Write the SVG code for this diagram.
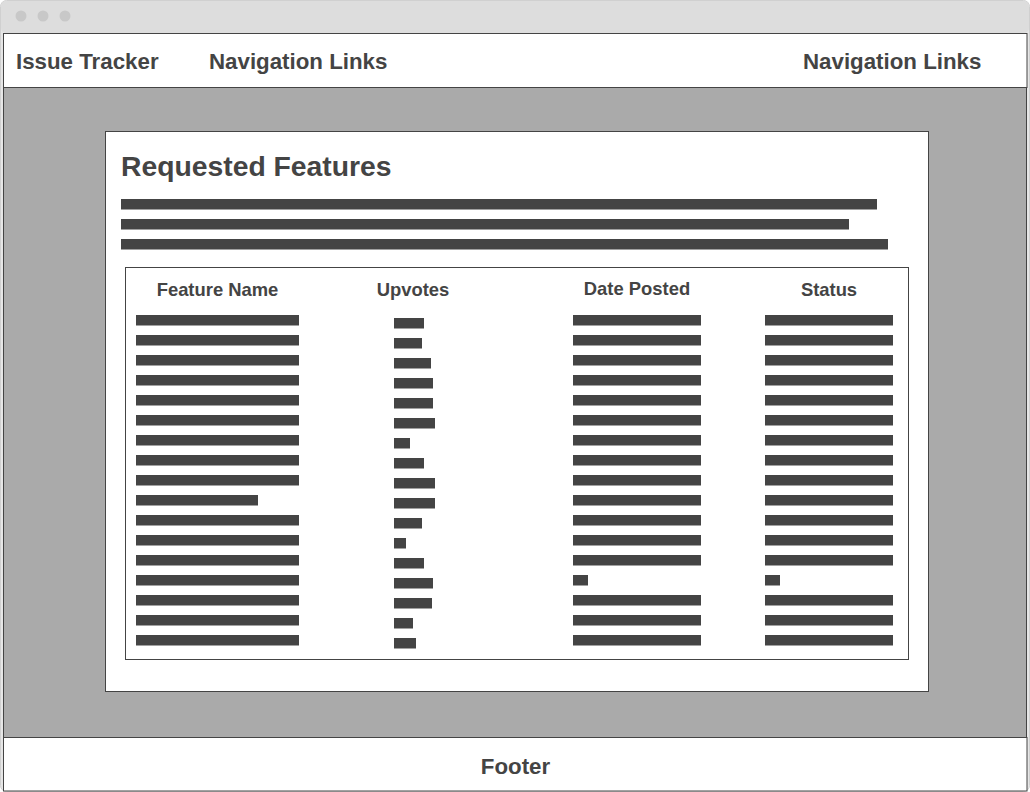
<svg xmlns="http://www.w3.org/2000/svg" width="1030" height="792" viewBox="0 0 1030 792">
<style>
.frame{fill:#fff;stroke:#444;stroke-width:1}
.t{font-family:"Liberation Sans",Arial,sans-serif;font-weight:bold;fill:#444}
.b{fill:#444}
.dot{fill:#c8c8c8}
</style>
<g id="window">
<rect x="0.5" y="0.5" width="1029" height="791" rx="6" fill="#e6e6e6" stroke="#d0d0d0"/>
<rect x="1" y="1" width="1028" height="32" rx="5" fill="#dddddd"/>
<circle class="dot" cx="21" cy="16" r="5.5"/>
<circle class="dot" cx="43" cy="16" r="5.5"/>
<circle class="dot" cx="65" cy="16" r="5.5"/>
</g>
<g id="content">
<rect x="3.5" y="87.5" width="1023" height="650" fill="#aaaaaa" stroke="#444"/>
</g>
<g id="header">
<rect class="frame" x="3.5" y="33.5" width="1023.5" height="54"/>
<text class="t" x="16" y="69" font-size="22.3">Issue Tracker</text>
<text class="t" x="209" y="69" font-size="22.3">Navigation Links</text>
<text class="t" x="803" y="69" font-size="22.3">Navigation Links</text>
</g>
<g id="footer">
<rect class="frame" x="3.5" y="737.5" width="1023.5" height="53.5"/>
<text class="t" x="515.5" y="774" font-size="22.3" text-anchor="middle">Footer</text>
</g>
<g id="card">
<rect class="frame" x="105.5" y="131.5" width="823" height="560"/>
<text class="t" x="121" y="175.5" font-size="28.3">Requested Features</text>
<rect class="b" x="121" y="199" width="756" height="10.5"/>
<rect class="b" x="121" y="219" width="728" height="10.5"/>
<rect class="b" x="121" y="239" width="767" height="10.5"/>
</g>
<g id="table">
<rect class="frame" x="125.5" y="267.5" width="783" height="392"/>
<text class="t" x="217.5" y="295.5" font-size="18.4" text-anchor="middle">Feature Name</text>
<text class="t" x="413" y="295.5" font-size="18.4" text-anchor="middle">Upvotes</text>
<text class="t" x="637" y="295" font-size="18.4" text-anchor="middle">Date Posted</text>
<text class="t" x="829" y="295.5" font-size="18.4" text-anchor="middle">Status</text>
<g id="col-feature">
<rect class="b" x="136" y="315" width="163" height="10.5"/>
<rect class="b" x="136" y="335" width="163" height="10.5"/>
<rect class="b" x="136" y="355" width="163" height="10.5"/>
<rect class="b" x="136" y="375" width="163" height="10.5"/>
<rect class="b" x="136" y="395" width="163" height="10.5"/>
<rect class="b" x="136" y="415" width="163" height="10.5"/>
<rect class="b" x="136" y="435" width="163" height="10.5"/>
<rect class="b" x="136" y="455" width="163" height="10.5"/>
<rect class="b" x="136" y="475" width="163" height="10.5"/>
<rect class="b" x="136" y="495" width="122" height="10.5"/>
<rect class="b" x="136" y="515" width="163" height="10.5"/>
<rect class="b" x="136" y="535" width="163" height="10.5"/>
<rect class="b" x="136" y="555" width="163" height="10.5"/>
<rect class="b" x="136" y="575" width="163" height="10.5"/>
<rect class="b" x="136" y="595" width="163" height="10.5"/>
<rect class="b" x="136" y="615" width="163" height="10.5"/>
<rect class="b" x="136" y="635" width="163" height="10.5"/>
</g>
<g id="col-upvotes">
<rect class="b" x="394" y="318" width="30" height="10.5"/>
<rect class="b" x="394" y="338" width="28" height="10.5"/>
<rect class="b" x="394" y="358" width="37" height="10.5"/>
<rect class="b" x="394" y="378" width="39" height="10.5"/>
<rect class="b" x="394" y="398" width="39" height="10.5"/>
<rect class="b" x="394" y="418" width="41" height="10.5"/>
<rect class="b" x="394" y="438" width="16" height="10.5"/>
<rect class="b" x="394" y="458" width="30" height="10.5"/>
<rect class="b" x="394" y="478" width="41" height="10.5"/>
<rect class="b" x="394" y="498" width="41" height="10.5"/>
<rect class="b" x="394" y="518" width="28" height="10.5"/>
<rect class="b" x="394" y="538" width="12" height="10.5"/>
<rect class="b" x="394" y="558" width="30" height="10.5"/>
<rect class="b" x="394" y="578" width="39" height="10.5"/>
<rect class="b" x="394" y="598" width="38" height="10.5"/>
<rect class="b" x="394" y="618" width="19" height="10.5"/>
<rect class="b" x="394" y="638" width="22" height="10.5"/>
</g>
<g id="col-date">
<rect class="b" x="573" y="315" width="128" height="10.5"/>
<rect class="b" x="573" y="335" width="128" height="10.5"/>
<rect class="b" x="573" y="355" width="128" height="10.5"/>
<rect class="b" x="573" y="375" width="128" height="10.5"/>
<rect class="b" x="573" y="395" width="128" height="10.5"/>
<rect class="b" x="573" y="415" width="128" height="10.5"/>
<rect class="b" x="573" y="435" width="128" height="10.5"/>
<rect class="b" x="573" y="455" width="128" height="10.5"/>
<rect class="b" x="573" y="475" width="128" height="10.5"/>
<rect class="b" x="573" y="495" width="128" height="10.5"/>
<rect class="b" x="573" y="515" width="128" height="10.5"/>
<rect class="b" x="573" y="535" width="128" height="10.5"/>
<rect class="b" x="573" y="555" width="128" height="10.5"/>
<rect class="b" x="573" y="575" width="15" height="10.5"/>
<rect class="b" x="573" y="595" width="128" height="10.5"/>
<rect class="b" x="573" y="615" width="128" height="10.5"/>
<rect class="b" x="573" y="635" width="128" height="10.5"/>
</g>
<g id="col-status">
<rect class="b" x="765" y="315" width="128" height="10.5"/>
<rect class="b" x="765" y="335" width="128" height="10.5"/>
<rect class="b" x="765" y="355" width="128" height="10.5"/>
<rect class="b" x="765" y="375" width="128" height="10.5"/>
<rect class="b" x="765" y="395" width="128" height="10.5"/>
<rect class="b" x="765" y="415" width="128" height="10.5"/>
<rect class="b" x="765" y="435" width="128" height="10.5"/>
<rect class="b" x="765" y="455" width="128" height="10.5"/>
<rect class="b" x="765" y="475" width="128" height="10.5"/>
<rect class="b" x="765" y="495" width="128" height="10.5"/>
<rect class="b" x="765" y="515" width="128" height="10.5"/>
<rect class="b" x="765" y="535" width="128" height="10.5"/>
<rect class="b" x="765" y="555" width="128" height="10.5"/>
<rect class="b" x="765" y="575" width="15" height="10.5"/>
<rect class="b" x="765" y="595" width="128" height="10.5"/>
<rect class="b" x="765" y="615" width="128" height="10.5"/>
<rect class="b" x="765" y="635" width="128" height="10.5"/>
</g>
</g>
<g id="connectors"/>
</svg>
